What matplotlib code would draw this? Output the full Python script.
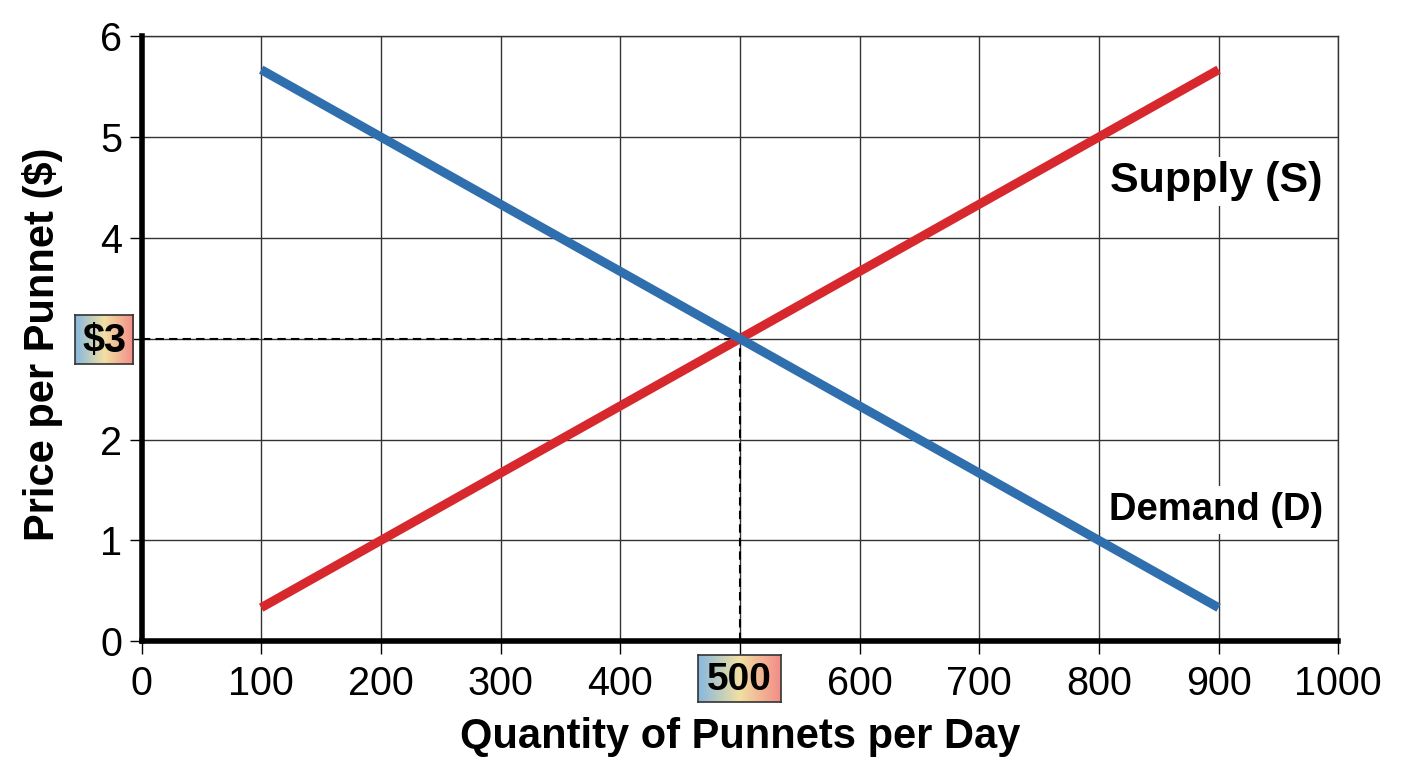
import numpy as np
import matplotlib
matplotlib.use("Agg")
import matplotlib.pyplot as plt
import matplotlib.transforms as mtransforms
from matplotlib.colors import LinearSegmentedColormap

# ─────────────────────────────────────────────
# DATA
# ─────────────────────────────────────────────
quantity = [100, 200, 300, 400, 500, 600, 700, 800, 900]
demand_price = [5.667, 5.0, 4.333, 3.667, 3.0, 2.333, 1.667, 1.0, 0.333]
supply_price = [0.333, 1.0, 1.667, 2.333, 3.0, 3.667, 4.333, 5.0, 5.667]

eq_quantity = 500
eq_price = 3

x_ticks = [0, 100, 200, 300, 400, 500, 600, 700, 800, 900, 1000]
x_tick_labels = ["0", "100", "200", "300", "400", "", "600", "700", "800", "900", "1000"]
y_ticks = [0, 1, 2, 3, 4, 5, 6]
y_tick_labels = ["0", "1", "2", "", "4", "5", "6"]

BLUE = "#2f6fad"
RED = "#d7292d"

plt.rcParams["font.family"] = ["Liberation Sans", "DejaVu Sans"]

fig = plt.figure(figsize=(14.08, 7.68), dpi=100)
ax = fig.add_axes([0.1005, 0.165, 0.850, 0.788])

ax.set_xlim(0, 1000)
ax.set_ylim(0, 6)
ax.set_xticks(x_ticks)
ax.set_xticklabels(x_tick_labels)
ax.set_yticks(y_ticks)
ax.set_yticklabels(y_tick_labels)
ax.tick_params(axis="both", labelsize=28.5, length=9, width=1, direction="out")
ax.tick_params(axis="x", pad=8)
ax.tick_params(axis="y", pad=5)
ax.grid(True, color="#333333", linewidth=1.0)
ax.set_axisbelow(True)

for side in ["top", "right"]:
    ax.spines[side].set_linewidth(1.0)
    ax.spines[side].set_color("#333333")
for side in ["left", "bottom"]:
    ax.spines[side].set_linewidth(4)
    ax.spines[side].set_color("black")
    ax.spines[side].set_zorder(5)

# equilibrium guide lines
ax.plot([0, eq_quantity], [eq_price, eq_price], color="black", linestyle=(0, (4, 2.5)),
        linewidth=1.5, zorder=2)
ax.plot([eq_quantity, eq_quantity], [0, eq_price], color="black", linestyle=(0, (4, 2.5)),
        linewidth=1.5, zorder=2)

ax.plot(quantity, supply_price, color=RED, linewidth=6.5, solid_capstyle="butt", zorder=3)
ax.plot(quantity, demand_price, color=BLUE, linewidth=6.5, solid_capstyle="butt", zorder=4)

# curve labels sit on small white patches that hide the grid
ax.text(987, 4.56, "Supply (S)", fontsize=31, fontweight="bold", ha="right", va="center",
        zorder=2.5, bbox=dict(facecolor="white", edgecolor="none", pad=3))
ax.text(987, 1.30, "Demand (D)", fontsize=27.5, fontweight="bold", ha="right", va="center",
        zorder=2.5, bbox=dict(facecolor="white", edgecolor="none", pad=4))

ax.set_xlabel("Quantity of Punnets per Day", fontsize=30, fontweight="bold", labelpad=10)
ax.set_ylabel("Price per Punnet ($)", fontsize=30, fontweight="bold")
ax.yaxis.set_label_coords(-0.066, 0.49)

# gradient label boxes for equilibrium values
grad_cmap = LinearSegmentedColormap.from_list("grad", ["#86b8e0", "#f2dfa2", "#f28d88"])
gradient = np.linspace(0, 1, 256).reshape(1, -1)


def gradient_box(bounds, transform, label, size):
    box = ax.inset_axes(bounds, transform=transform)
    box.imshow(gradient, aspect="auto", cmap=grad_cmap, extent=[0, 1, 0, 1])
    box.set_xticks([])
    box.set_yticks([])
    for sp in box.spines.values():
        sp.set_linewidth(1.2)
        sp.set_color("#333333")
    box.text(0.5, 0.47, label, transform=box.transAxes, fontsize=size, fontweight="bold",
             ha="center", va="center")
    return box


y_trans = mtransforms.blended_transform_factory(ax.transAxes, ax.transData)
gradient_box([-0.0555, eq_price - 0.25, 0.0485, 0.48], y_trans, "$3", 28.5)

x_trans = mtransforms.blended_transform_factory(ax.transData, ax.transAxes)
gradient_box([eq_quantity - 35, -0.101, 69, 0.078], x_trans, str(eq_quantity), 28)

fig.savefig("out.png", dpi=100)
